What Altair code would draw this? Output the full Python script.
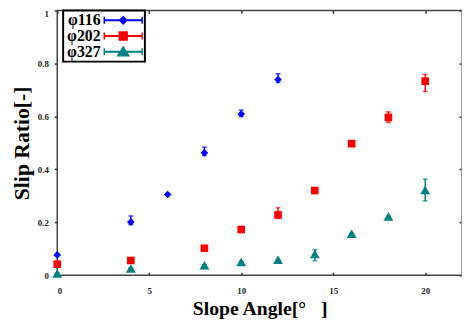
import altair as alt
import pandas as pd

series = ["φ116", "φ202", "φ327"]
colors = ["#0000ff", "#ff0000", "#008080"]
shapes = ["diamond", "square", "triangle-up"]
marker_sizes = [60, 60, 100]

x_ticks = [0, 5, 10, 15, 20]
y_ticks = [0, 0.2, 0.4, 0.6, 0.8, 1.0]

x116 = [0, 4, 6, 8, 10, 12]
y116 = [0.077, 0.201, 0.305, 0.463, 0.609, 0.739]
lo116 = [0.075, 0.192, 0.303, 0.452, 0.600, 0.728]
hi116 = [0.079, 0.224, 0.307, 0.484, 0.624, 0.761]

x202 = [0, 4, 8, 10, 12, 14, 16, 18, 20]
y202 = [0.042, 0.056, 0.102, 0.173, 0.228, 0.320, 0.497, 0.596, 0.733]
lo202 = [0.040, 0.054, 0.100, 0.171, 0.215, 0.310, 0.495, 0.577, 0.694]
hi202 = [0.044, 0.058, 0.104, 0.175, 0.255, 0.330, 0.499, 0.617, 0.758]

x327 = [0, 4, 8, 10, 12, 14, 16, 18, 20]
y327 = [0.007, 0.026, 0.038, 0.050, 0.059, 0.081, 0.157, 0.222, 0.322]
lo327 = [0.006, 0.024, 0.036, 0.048, 0.057, 0.055, 0.155, 0.220, 0.281]
hi327 = [0.008, 0.028, 0.040, 0.052, 0.061, 0.097, 0.159, 0.224, 0.363]

# legend glyphs (drawn to the right of the label): error-bar line with the series marker
legend_line = ("M6.3,-0.2H14.1V0.2H6.3Z"
               "M6.2,-0.7H6.5V0.7H6.2Z"
               "M13.9,-0.7H14.2V0.7H13.9Z")
legend_paths = [
    legend_line + "M10.2,-0.95L11.15,0L10.2,0.95L9.25,0Z",
    legend_line + "M9.25,-0.95H11.15V0.95H9.25Z",
    legend_line + "M10.2,-1.2L11.6,0.95H8.8Z",
]

frames = []
for name, xs, ys, lo, hi in [
    (series[0], x116, y116, lo116, hi116),
    (series[1], x202, y202, lo202, hi202),
    (series[2], x327, y327, lo327, hi327),
]:
    frames.append(pd.DataFrame({"series": name, "x": xs, "y": ys, "lo": lo, "hi": hi}))
df = pd.concat(frames, ignore_index=True)

FONT = "Liberation Serif"
xscale = alt.Scale(domain=[0, 22], nice=False, zero=False)
yscale = alt.Scale(domain=[0, 1], nice=False)
cscale = alt.Scale(domain=series, range=colors)

main_x = alt.Axis(
    values=x_ticks, orient="bottom", offset=-3, tickSize=3, tickWidth=1.5,
    tickColor="#333", domain=False, labelPadding=11, labelFont=FONT,
    labelFontSize=9, labelFontWeight="bold", labelColor="#222",
    title="Slope Angle[°\u00a0\u00a0\u00a0]", titleFont=FONT, titleFontSize=20,
    titleFontWeight="bold", titleColor="black", titlePadding=4,
)
main_y = alt.Axis(
    values=y_ticks, orient="left", format="~g", tickSize=3, tickWidth=1.5,
    tickColor="#333", domain=False, labelPadding=6, labelFont=FONT,
    labelFontSize=9, labelFontWeight="bold", labelColor="#222",
    labelOffset={"condition": {"test": "datum.value == 1", "value": 3}, "value": 0},
    title="Slip Ratio[-]", titleFont=FONT, titleFontSize=22,
    titleFontWeight="bold", titleColor="black", titlePadding=4,
)
top_x = alt.Axis(values=x_ticks, orient="top", offset=-3, tickSize=3,
                 tickWidth=1.5, tickColor="#333", domain=False, labels=False,
                 title=None)
right_y = alt.Axis(values=y_ticks, orient="right", offset=-3, tickSize=3,
                   tickWidth=1.5, tickColor="#333", domain=False, labels=False,
                   title=None)
right_border = alt.Axis(orient="right", ticks=False, labels=False, title=None,
                        domain=True, domainColor="#d0d0d0", domainWidth=2,
                        zindex=1)

layers = []
for i, (name, col, shp, sz) in enumerate(zip(series, colors, shapes, marker_sizes)):
    d = df[df["series"] == name]
    caps = d.melt(id_vars=["series", "x"], value_vars=["lo", "hi"], value_name="cap")
    layers.append(
        alt.Chart(d).mark_rule(strokeWidth=1.5, color=col).encode(
            x=alt.X("x:Q", scale=xscale, axis=main_x if i == 0 else None),
            y=alt.Y("lo:Q", scale=yscale, axis=main_y if i == 0 else None),
            y2="hi:Q",
        )
    )
    layers.append(
        alt.Chart(caps).mark_tick(orient="horizontal", size=5, thickness=1.5, color=col).encode(
            x=alt.X("x:Q", scale=xscale, axis=top_x if i == 0 else None),
            y=alt.Y("cap:Q", scale=yscale, axis=right_y if i == 0 else None),
        )
    )
    layers.append(
        alt.Chart(d).mark_point(
            shape=shp, filled=True, size=sz, color=col, opacity=1
        ).encode(
            x=alt.X("x:Q", scale=xscale, axis=None),
            y=alt.Y("y:Q", scale=yscale, axis=None),
        )
    )

leg = alt.Legend(
    title=None, orient="none", legendX=6, legendY=0, padding=2,
    strokeColor="black", fillColor="white", labelFont=FONT,
    labelFontSize=16, labelFontWeight="bold", labelColor="black",
    labelAlign="right", symbolSize=100, symbolOffset=0, labelOffset=20,
    rowPadding=0, symbolStrokeWidth=0, symbolOpacity=1,
)

legend_layer = alt.Chart(df).mark_point(filled=True, opacity=0).encode(
    x=alt.X("x:Q", scale=xscale, axis=None),
    y=alt.Y("y:Q", scale=yscale, axis=right_border),
    color=alt.Color("series:N", scale=cscale, legend=leg),
    shape=alt.Shape("series:N", scale=alt.Scale(domain=series, range=legend_paths), legend=leg),
)

chart = alt.layer(*layers, legend_layer).resolve_axis(
    x="independent", y="independent"
).properties(
    width=411, height=269, autosize="none",
    padding={"left": 50, "top": 0, "right": 0, "bottom": 48},
).configure_view(stroke="#444", strokeWidth=1.5).configure_axis(grid=False).configure_legend(strokeWidth=2)

chart.save("out.html", embed_options={"renderer": "svg", "actions": False})
